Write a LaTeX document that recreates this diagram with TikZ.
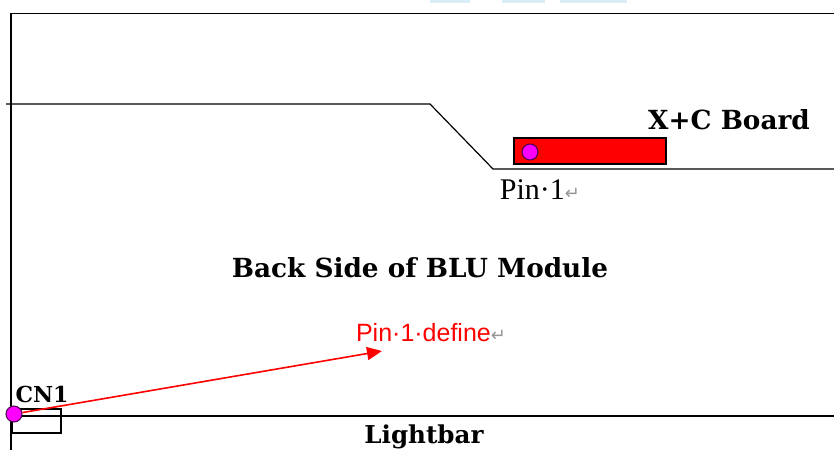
\documentclass[tikz,border=0pt]{standalone}
\usepackage{fontspec}
\setmainfont{Liberation Serif}
\newfontfamily\boldserif{DejaVu Serif}
\newfontfamily\sanslabel{Liberation Sans}
\newfontfamily\markfont{DejaVu Sans}
\usepackage{xcolor}
\usepackage{tikz}
\usetikzlibrary{arrows.meta}
\definecolor{pinmag}{RGB}{255,0,255}
\definecolor{pinedge}{RGB}{70,0,70}
\definecolor{markgray}{RGB}{150,150,150}
\definecolor{wmblue}{RGB}{218,238,248}
\newcommand{\retmark}{{\markfont\color{markgray}\fontsize{18}{20}\selectfont ↵}}

\begin{document}
\begin{tikzpicture}[x=1pt,y=-1pt]
				\useasboundingbox (0,0) rectangle (834,450);
				% watermark remains
				\fill[wmblue] (430,0) rectangle (470,3);
				\fill[wmblue] (502,0) rectangle (545,3);
				\fill[wmblue] (560,0) rectangle (627,3);
				
				% module outline
				\draw[line width=1.6pt] (834,13.5) -- (11,13.5) -- (11,450);
				\draw[line width=1.2pt] (6,104) -- (430,104) -- (493,169) -- (834,169);
				\draw[line width=1.4pt] (11,416) -- (834,416);
				
				\begin{scope}[every node/.style={inner sep=0pt,line width=1.2pt,draw=black}]
					\node[fill=red,minimum width=152pt,minimum height=26pt] (board) at (590,151) {};
					\node[minimum width=49pt,minimum height=24pt] (cn1) at (36.5,421) {};
				\end{scope}
				
				\begin{scope}[every node/.style={circle,draw=pinedge,fill=pinmag,line width=1pt,minimum size=16pt,inner sep=0pt}]
					\node (pinA) at (530,152) {};
					\node (pinB) at (14,414) {};
				\end{scope}
				
				\begin{scope}[>={Triangle[red,length=15pt,width=13pt]},
					every edge/.style={draw=red,line width=1.6pt}]
					\coordinate (tip) at (382,351);
					\path [->] (pinB) edge (tip);
				\end{scope}
				
				\begin{scope}[every node/.style={inner sep=0pt,font=\boldserif\bfseries\fontsize{26.3}{28}\selectfont}]
					\node (xc) at (729,120) {X+C Board};
					\node (blu) at (420,268) {Back Side of BLU Module};
					\node (lb) at (424,437) {\fontsize{24.6}{28}\selectfont Lightbar};
					\node (cnl) at (42,394) {\fontsize{22}{26}\selectfont CN1};
				\end{scope}
				
				\node[inner sep=0pt,font=\fontsize{30}{32}\selectfont] (pinlabel) at (540,190) {Pin·1\retmark};
				\node[inner sep=0pt,red,font=\sanslabel\fontsize{25}{28}\selectfont] (deflabel) at (431,333) {Pin·1·define\retmark};
			\end{tikzpicture}
\end{document}
